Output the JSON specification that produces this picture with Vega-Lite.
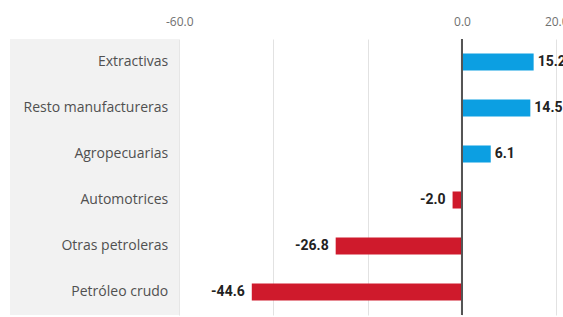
{
  "$schema": "https://vega.github.io/schema/vega-lite/v6.json",
  "autosize": {"type": "none"},
  "padding": {"left": 10, "top": 39, "right": 0, "bottom": 2},
  "width": 553,
  "height": 276,
  "background": "white",
  "data": {"values": [
    {"sector": "Extractivas", "valor": 15.2},
    {"sector": "Resto manufactureras", "valor": 14.5},
    {"sector": "Agropecuarias", "valor": 6.1},
    {"sector": "Automotrices", "valor": -2.0},
    {"sector": "Otras petroleras", "valor": -26.8},
    {"sector": "Petróleo crudo", "valor": -44.6}
  ]},
  "config": {
    "view": {"stroke": null},
    "locale": {"number": {"decimal": ".", "thousands": ",", "grouping": [3], "currency": ["$", ""], "minus": "-"}}
  },
  "encoding": {
    "y": {"field": "sector", "type": "nominal", "sort": null, "axis": null,
          "scale": {"paddingInner": 0.63, "paddingOuter": 0.315}}
  },
  "layer": [
    {
      "mark": {"type": "bar"},
      "encoding": {
        "x": {"field": "valor", "type": "quantitative",
              "scale": {"domain": [-95.9, 21.43], "nice": false, "zero": false},
              "axis": {"orient": "top", "title": null, "values": [-60, -40, -20, 0, 20],
                       "labelExpr": "datum.value == -40 || datum.value == -20 ? '' : replace(format(datum.value, '.1f'), '\u2212', '-')",
                       "ticks": false, "domain": false, "grid": true, "gridColor": "#e2e2e2",
                       "labelFont": "Open Sans", "labelFontSize": 12, "labelColor": "#707070",
                       "labelPadding": 11}},
        "color": {"condition": {"test": "datum.valor > 0", "value": "#0c9fe2"}, "value": "#cf1a2c"}
      }
    },
    {
      "data": {"values": [{"x1": -95.9, "x2": -60}]},
      "mark": {"type": "rect", "color": "#f2f2f2"},
      "encoding": {
        "y": null,
        "x": {"field": "x1", "type": "quantitative"},
        "x2": {"field": "x2"}
      }
    },
    {
      "mark": {"type": "text", "align": "right", "dx": -11, "font": "Open Sans", "fontSize": 14, "color": "#505050"},
      "encoding": {
        "x": {"datum": -60, "type": "quantitative"},
        "text": {"field": "sector"}
      }
    },
    {
      "transform": [{"filter": "datum.valor > 0"}],
      "mark": {"type": "text", "align": "left", "dx": 4, "font": "Roboto", "fontWeight": "bold", "fontSize": 14, "color": "#222222"},
      "encoding": {
        "x": {"field": "valor", "type": "quantitative"},
        "text": {"field": "valor", "type": "quantitative", "format": ".1f"}
      }
    },
    {
      "transform": [{"filter": "datum.valor < 0"}],
      "mark": {"type": "text", "align": "right", "dx": -7, "font": "Roboto", "fontWeight": "bold", "fontSize": 14, "color": "#222222"},
      "encoding": {
        "x": {"field": "valor", "type": "quantitative"},
        "text": {"field": "valor", "type": "quantitative", "format": ".1f"}
      }
    },
    {
      "mark": {"type": "rule", "color": "#555555", "strokeWidth": 2},
      "encoding": {"x": {"datum": 0, "type": "quantitative"}, "y": null}
    }
  ]
}
